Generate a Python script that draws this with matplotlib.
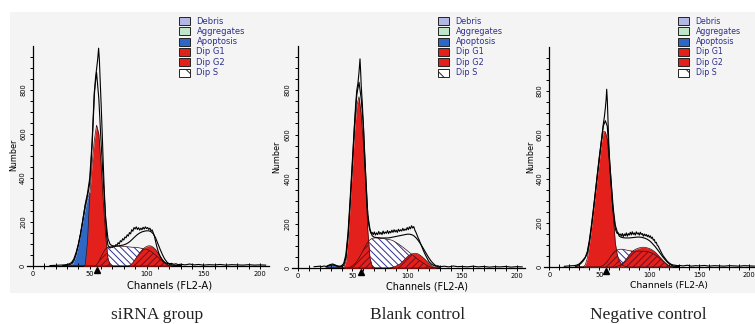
import numpy as np
import matplotlib
matplotlib.use("Agg")
import matplotlib.pyplot as plt
from matplotlib.patches import Rectangle
from matplotlib.ticker import FixedLocator, MultipleLocator
from matplotlib.transforms import offset_copy

W, H = 755, 324

# channel grid for the fitted components (FL2-A)
ch = [26, 28, 30, 32, 34, 36, 38, 40, 42, 44,
      46, 48, 50, 52, 54, 56, 58, 60, 62, 64,
      66, 68, 70, 72, 74, 76, 78, 80, 82, 84,
      86, 88, 90, 92, 94, 96, 98, 100, 102, 104,
      106, 108, 110, 112, 114, 116, 118, 120, 122, 124,
      126, 128, 130]

# ---- siRNA group ----
apo1 = [0, 0, 0, 0, 2, 20, 50, 95, 150, 205,
        260, 305, 333, 300, 220, 130, 60, 20, 5, 0,
        0, 0, 0, 0, 0, 0, 0, 0, 0, 0,
        0, 0, 0, 0, 0, 0, 0, 0, 0, 0,
        0, 0, 0, 0, 0, 0, 0, 0, 0, 0,
        0, 0, 0]
g1_1 = [0, 0, 0, 0, 0, 0, 0, 0, 0, 0,
        5, 110, 320, 460, 570, 640, 600, 460, 290, 140,
        35, 5, 0, 0, 0, 0, 0, 0, 0, 0,
        0, 0, 0, 0, 0, 0, 0, 0, 0, 0,
        0, 0, 0, 0, 0, 0, 0, 0, 0, 0,
        0, 0, 0]
s_1 = [0, 0, 0, 0, 0, 0, 0, 0, 0, 0,
       0, 0, 0, 0, 0, 5, 20, 42, 62, 78,
       86, 89, 90, 90, 90, 90, 90, 89, 88, 87,
       86, 85, 85, 84, 82, 80, 78, 76, 72, 66,
       58, 50, 40, 30, 21, 13, 7, 3, 0, 0,
       0, 0, 0]
g2_1 = [0, 0, 0, 0, 0, 0, 0, 0, 0, 0,
        0, 0, 0, 0, 0, 0, 0, 0, 0, 0,
        0, 0, 0, 0, 0, 0, 0, 0, 0, 0,
        5, 15, 30, 45, 60, 72, 82, 89, 92, 91,
        85, 75, 60, 45, 30, 17, 8, 3, 0, 0,
        0, 0, 0]
fit1 = [2, 3, 4, 6, 10, 25, 55, 98, 150, 210,
        280, 330, 400, 560, 790, 880, 760, 560, 380, 220,
        125, 98, 92, 90, 91, 92, 94, 96, 100, 106,
        114, 124, 134, 143, 150, 155, 158, 160, 160, 156,
        146, 128, 102, 76, 52, 32, 18, 10, 6, 4,
        3, 3, 3]
hist1_ch = [15, 20, 24, 28, 30, 32, 34, 36, 38, 40,
            42, 44, 46, 48, 49, 50, 51, 52, 53, 54,
            55, 56, 57, 57.8, 58.5, 59.2, 60, 61, 62, 63,
            64, 65, 66, 67, 68, 69, 70, 71, 72, 73,
            74, 75, 76, 77, 78, 79, 80, 81, 82, 83,
            84, 85, 86, 87, 88, 89, 90, 91, 92, 93,
            94, 95, 96, 97, 98, 99, 100, 101, 102, 103,
            104, 105, 106, 107, 108, 109, 110, 111, 112, 113,
            114, 116, 118, 120, 122, 124, 126, 128, 130, 134,
            138, 142, 146, 150, 155, 160, 165, 170, 175, 180,
            185, 190, 195, 200, 205]
hist1_n = [2, 3, 4, 5, 7, 10, 16, 32, 62, 100,
           150, 215, 275, 320, 345, 380, 450, 540, 650, 770,
           850, 895, 940, 990, 935, 840, 740, 600, 450, 320,
           210, 130, 95, 85, 82, 86, 84, 90, 88, 97,
           94, 106, 100, 115, 110, 124, 118, 132, 128, 142,
           136, 152, 146, 165, 158, 175, 168, 178, 166, 174,
           163, 172, 165, 176, 168, 178, 170, 175, 166, 172,
           160, 164, 150, 135, 112, 90, 72, 56, 44, 34,
           26, 17, 12, 10, 12, 8, 10, 6, 8, 5,
           9, 5, 7, 4, 6, 5, 7, 4, 6, 5,
           4, 6, 4, 5, 4]

# ---- Blank control ----
apo2 = [0, 2, 8, 12, 10, 5, 1, 0, 0, 0,
        0, 0, 0, 0, 0, 0, 0, 0, 0, 0,
        0, 0, 0, 0, 0, 0, 0, 0, 0, 0,
        0, 0, 0, 0, 0, 0, 0, 0, 0, 0,
        0, 0, 0, 0, 0, 0, 0, 0, 0, 0,
        0, 0, 0]
g1_2 = [0, 0, 0, 0, 0, 0, 0, 0, 0, 30,
        130, 290, 450, 620, 730, 770, 690, 560, 380, 170,
        45, 8, 0, 0, 0, 0, 0, 0, 0, 0,
        0, 0, 0, 0, 0, 0, 0, 0, 0, 0,
        0, 0, 0, 0, 0, 0, 0, 0, 0, 0,
        0, 0, 0]
s_2 = [0, 0, 0, 0, 0, 0, 0, 0, 0, 0,
       0, 4, 10, 18, 30, 45, 63, 82, 100, 116,
       127, 133, 135, 135, 134, 133, 132, 131, 129, 127,
       125, 120, 114, 108, 101, 94, 86, 78, 70, 62,
       54, 46, 38, 31, 24, 18, 12, 7, 3, 1,
       0, 0, 0]
g2_2 = [0, 0, 0, 0, 0, 0, 0, 0, 0, 0,
        0, 0, 0, 0, 0, 0, 0, 0, 0, 0,
        0, 0, 0, 0, 0, 0, 0, 0, 0, 0,
        2, 5, 9, 14, 20, 30, 40, 50, 58, 63,
        66, 66, 63, 57, 49, 40, 30, 20, 11, 5,
        1, 0, 0]
fit2 = [6, 8, 12, 14, 12, 8, 6, 6, 12, 45,
        145, 300, 470, 650, 780, 835, 760, 640, 430, 240,
        175, 145, 138, 137, 136, 135, 135, 135, 135, 136,
        138, 140, 142, 144, 146, 148, 150, 152, 152, 150,
        145, 136, 124, 110, 94, 77, 60, 44, 30, 19,
        11, 6, 4]
hist2_ch = [15, 18, 20, 22, 24, 26, 28, 30, 32, 34,
            36, 38, 40, 42, 44, 46, 48, 50, 52, 53,
            54, 55, 56, 56.9, 57.6, 58, 59, 60, 61, 62,
            63, 64, 65, 66, 67, 68, 69, 70, 71, 72,
            73, 74, 75, 76, 77, 78, 79, 80, 81, 82,
            83, 84, 85, 86, 87, 88, 89, 90, 91, 92,
            93, 94, 95, 96, 97, 98, 99, 100, 101, 102,
            103, 104, 105, 106, 107, 108, 109, 110, 111, 112,
            113, 114, 115, 116, 117, 118, 119, 120, 122, 124,
            126, 128, 130, 134, 138, 142, 146, 150, 155, 160,
            165, 170, 175, 180, 185, 190, 195, 200, 205]
hist2_n = [6, 7, 8, 6, 9, 7, 12, 16, 18, 14,
           10, 8, 10, 20, 60, 160, 320, 490, 660, 740,
           800, 830, 880, 940, 870, 820, 740, 640, 520, 420,
           320, 240, 190, 168, 155, 160, 150, 162, 148, 158,
           150, 164, 152, 160, 150, 166, 154, 162, 156, 168,
           155, 165, 158, 170, 160, 172, 162, 170, 160, 174,
           165, 172, 166, 178, 168, 175, 170, 182, 172, 185,
           176, 190, 180, 186, 170, 160, 148, 135, 125, 112,
           100, 88, 76, 65, 55, 46, 36, 28, 18, 12,
           8, 10, 6, 8, 5, 9, 6, 7, 5, 8,
           5, 7, 4, 6, 5, 7, 4, 6, 5]

# ---- Negative control ----
apo3 = [0, 0, 0, 0, 0, 0, 0, 0, 0, 0,
        0, 0, 0, 0, 0, 0, 0, 0, 0, 0,
        0, 0, 0, 0, 0, 0, 0, 0, 0, 0,
        0, 0, 0, 0, 0, 0, 0, 0, 0, 0,
        0, 0, 0, 0, 0, 0, 0, 0, 0, 0,
        0, 0, 0]
g1_3 = [0, 0, 0, 0, 0, 10, 40, 100, 170, 245,
        325, 410, 480, 560, 615, 615, 580, 470, 350, 230,
        110, 55, 28, 14, 6, 2, 0, 0, 0, 0,
        0, 0, 0, 0, 0, 0, 0, 0, 0, 0,
        0, 0, 0, 0, 0, 0, 0, 0, 0, 0,
        0, 0, 0]
s_3 = [0, 0, 0, 0, 0, 0, 0, 0, 0, 0,
       0, 0, 0, 3, 8, 15, 25, 38, 52, 64,
       73, 78, 80, 81, 80, 78, 76, 74, 73, 72,
       72, 72, 72, 72, 72, 71, 70, 68, 64, 60,
       55, 48, 41, 33, 25, 17, 10, 5, 2, 0,
       0, 0, 0]
g2_3 = [0, 0, 0, 0, 0, 0, 0, 0, 0, 0,
        0, 0, 0, 0, 0, 0, 0, 0, 0, 0,
        0, 3, 7, 12, 20, 30, 42, 55, 65, 74,
        80, 84, 87, 89, 90, 89, 87, 84, 80, 74,
        67, 58, 48, 38, 28, 19, 11, 5, 2, 0,
        0, 0, 0]
fit3 = [3, 5, 10, 18, 28, 42, 62, 110, 178, 255,
        335, 418, 495, 572, 640, 665, 640, 500, 380, 265,
        190, 160, 140, 135, 133, 132, 132, 132, 133, 134,
        135, 136, 136, 135, 133, 130, 126, 120, 112, 102,
        92, 80, 68, 55, 43, 32, 22, 14, 8, 5,
        3, 3, 2]
hist3_ch = [15, 20, 24, 27, 30, 33, 36, 38, 40, 42,
            44, 46, 48, 50, 52, 53, 54, 55, 56, 56.8,
            57.4, 58, 58.6, 59.5, 60.5, 62, 63, 64, 65, 66,
            67, 68, 69, 70, 71, 72, 73, 74, 75, 76,
            77, 78, 79, 80, 81, 82, 83, 84, 85, 86,
            87, 88, 89, 90, 91, 92, 93, 94, 95, 96,
            97, 98, 99, 100, 101, 102, 103, 104, 105, 106,
            107, 108, 109, 110, 111, 112, 113, 114, 115, 116,
            117, 118, 120, 122, 124, 126, 128, 130, 134, 138,
            142, 146, 150, 155, 160, 165, 170, 175, 180, 185,
            190, 195, 200, 205]
hist3_n = [3, 5, 6, 8, 14, 28, 45, 70, 120, 185,
           260, 340, 420, 500, 570, 610, 650, 680, 720, 760,
           808, 760, 680, 560, 470, 370, 300, 250, 210, 175,
           160, 152, 155, 145, 150, 140, 152, 138, 150, 142,
           155, 140, 152, 145, 158, 146, 160, 148, 155, 145,
           160, 150, 155, 145, 158, 148, 152, 140, 150, 142,
           148, 138, 145, 135, 142, 130, 136, 122, 125, 110,
           112, 98, 95, 84, 76, 66, 58, 50, 44, 38,
           32, 26, 18, 12, 9, 8, 6, 7, 5, 8,
           4, 6, 5, 7, 4, 6, 5, 4, 6, 5,
           4, 6, 5, 4]

g1_mean = [56.7, 58.2, 56.7]
captions = ["siRNA group", "Blank control", "Negative control"]
legend_labels = ["Debris", "Aggregates", "Apoptosis", "Dip G1", "Dip G2", "Dip S"]

RED = "#e3201b"
BLUE = "#2f68c4"
NAVY = "#2d2f8e"
DARKRED = "#6e1020"
BG = "#f4f4f4"

plt.rcParams["hatch.linewidth"] = 0.7
plt.rcParams["font.family"] = ["DejaVu Sans"]

fig = plt.figure(figsize=(W / 100, H / 100), dpi=100)
fig.add_artist(Rectangle((10 / W, (H - 293) / H), (W - 10) / W, (293 - 12) / H,
                         transform=fig.transFigure, facecolor=BG,
                         edgecolor="none", zorder=-10))

XMIN, XMAX = -5, 208
# pixel layout per panel: x of channel 0, px per channel, y of count 0, px per count
layout = [
    dict(x0=33.0, sx=1.135, y0=266.0, sy=0.220, leg=179, fs_leg=6.0, fs_lab=7.2,
         ylab=(14, 155), xlab=(170, 285), cap=(157, 319)),
    dict(x0=297.7, sx=1.095, y0=268.0, sy=0.2225, leg=438, fs_leg=5.9, fs_lab=6.9,
         ylab=(277, 157), xlab=(427.5, 286.5), cap=(418, 319)),
    dict(x0=549.3, sx=1.000, y0=267.0, sy=0.220, leg=678, fs_leg=5.7, fs_lab=6.6,
         ylab=(531, 157), xlab=(669, 285.7), cap=(648, 319)),
]
panels = [
    (apo1, g1_1, s_1, g2_1, fit1, hist1_ch, hist1_n),
    (apo2, g1_2, s_2, g2_2, fit2, hist2_ch, hist2_n),
    (apo3, g1_3, s_3, g2_3, fit3, hist3_ch, hist3_n),
]

legend_rows = [21, 31.3, 41.6, 52, 62.3, 72.6]
legend_face = ["#b3b7e6", "#bfe6cb", BLUE, RED, RED, "white"]


def fig_xy(px, py):
    return px / W, (H - py) / H


for i, (lay, comp) in enumerate(zip(layout, panels)):
    apo, g1, s, g2, fit, hch, hn = [np.asarray(c, dtype=float) for c in comp]
    x = np.asarray(ch, dtype=float)
    left = (lay["x0"] + XMIN * lay["sx"]) / W
    width = (XMAX - XMIN) * lay["sx"] / W
    bottom = (H - lay["y0"]) / H
    height = 1000 * lay["sy"] / H
    ax = fig.add_axes([left, bottom, width, height])
    ax.set_facecolor("none")
    ax.set_xlim(XMIN, XMAX)
    ax.set_ylim(0, 1000)

    # components
    ax.fill_between(x, apo, color=BLUE, lw=0, zorder=1)
    ax.plot(x, apo, color="#1b2f6a", lw=0.5, zorder=1.5)
    ax.fill_between(x, s, facecolor="white", edgecolor=NAVY,
                    hatch="\\\\\\\\\\", lw=0, zorder=2)
    ax.fill_between(x, g1, color=RED, lw=0, zorder=3)
    ax.fill_between(x, g2, color=RED, lw=0, zorder=3)
    ax.fill_between(x, np.minimum(s, g1), facecolor=RED, edgecolor=DARKRED,
                    hatch="/////", lw=0, zorder=4)
    ax.fill_between(x, np.minimum(s, g2), facecolor=RED, edgecolor=DARKRED,
                    hatch="/////", lw=0, zorder=4)
    for comp_y in (s, g1, g2):
        ax.plot(x, comp_y, color="#3a1010", lw=0.5, zorder=5)

    # model fit and raw histogram
    ax.plot(x, fit, color="black", lw=0.8, zorder=6)
    ax.plot(hch, hn, color="black", lw=0.8, zorder=7)

    # G1 mean marker below the axis
    tr = offset_copy(ax.transData, fig=fig, y=-4, units="dots")
    ax.plot([g1_mean[i]], [0], marker="^", ms=5, color="black", transform=tr,
            clip_on=False, zorder=8)

    # axes styling
    for side in ("top", "right"):
        ax.spines[side].set_visible(False)
    ax.spines["left"].set_position(("data", 0))
    ax.spines["left"].set_linewidth(0.9)
    ax.spines["bottom"].set_linewidth(0.9)
    ax.set_xticks([0, 50, 100, 150, 200])
    ax.xaxis.set_minor_locator(MultipleLocator(10))
    ax.yaxis.set_major_locator(FixedLocator([0, 200, 400, 600, 800]))
    ax.yaxis.set_minor_locator(FixedLocator([v for v in range(50, 1000, 50)]))
    ax.tick_params(axis="x", which="both", direction="inout", length=4,
                   width=0.7, labelsize=4.8, pad=1.5)
    ax.tick_params(axis="y", which="both", direction="out", length=2.5,
                   width=0.7, labelsize=4.8, pad=2.5)
    for lab in ax.get_yticklabels():
        lab.set_rotation(90)
        lab.set_va("center")

    # labels
    fig.text(*fig_xy(*lay["ylab"]), "Number", rotation=90, ha="center",
             va="center", fontsize=5.8)
    fig.text(*fig_xy(*lay["xlab"]), "Channels (FL2-A)", ha="center",
             va="center", fontsize=lay["fs_lab"])
    fig.text(*fig_xy(*lay["cap"]), captions[i], ha="center", va="baseline",
             fontsize=12.5, family=["Liberation Serif", "DejaVu Serif"],
             color="#222222")

    # legend
    for j, (lab, fc) in enumerate(zip(legend_labels, legend_face)):
        py = legend_rows[j]
        fx, fy = fig_xy(lay["leg"], py + 4)
        fig.add_artist(Rectangle((fx, fy), 10.5 / W, 8 / H, transform=fig.transFigure,
                                 facecolor=fc, edgecolor="#222222", lw=0.7,
                                 hatch="\\\\" if lab == "Dip S" else None))
        fig.text(*fig_xy(lay["leg"] + 17.5, py), lab, ha="left", va="center",
                 fontsize=lay["fs_leg"], color=NAVY)

fig.savefig("out.png", dpi=100)
